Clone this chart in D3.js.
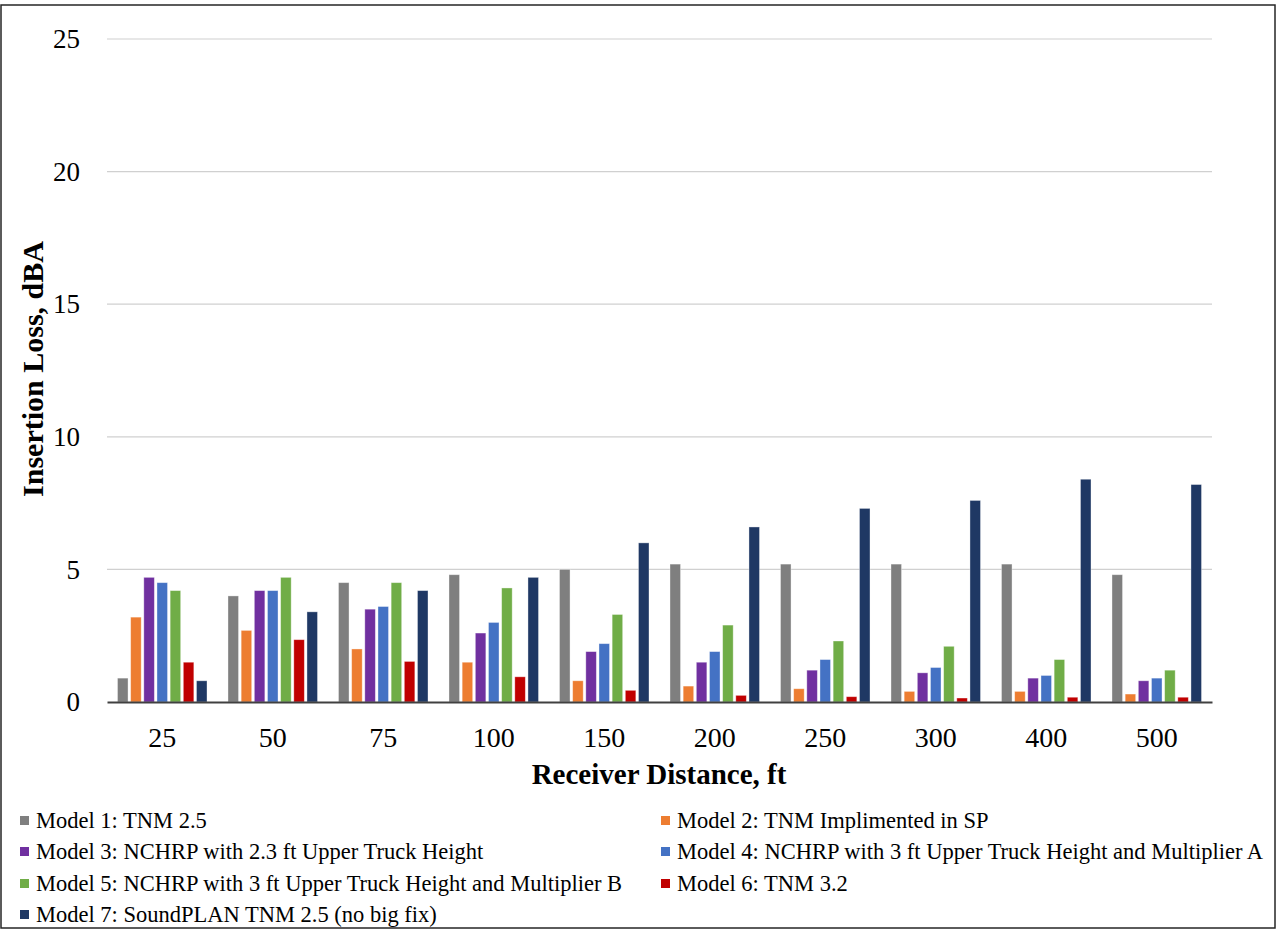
<!DOCTYPE html>
<html><head><meta charset="utf-8">
<script src="https://cdn.jsdelivr.net/npm/d3@7"></script>
<style>body{margin:0;background:#fff}svg{display:block}</style>
</head><body>
<script>
const categories = ["25","50","75","100","150","200","250","300","400","500"];
const seriesNames = [
  "Model 1: TNM 2.5",
  "Model 2: TNM Implimented in SP",
  "Model 3: NCHRP with 2.3 ft Upper Truck Height",
  "Model 4: NCHRP with 3 ft Upper Truck Height and Multiplier A",
  "Model 5: NCHRP with 3 ft Upper Truck Height and Multiplier B",
  "Model 6: TNM 3.2",
  "Model 7: SoundPLAN TNM 2.5 (no big fix)"
];
const model1 = [0.9, 4.0, 4.5, 4.8, 5.0, 5.2, 5.2, 5.2, 5.2, 4.8];
const model2 = [3.2, 2.7, 2.0, 1.5, 0.8, 0.6, 0.5, 0.4, 0.4, 0.3];
const model3 = [4.7, 4.2, 3.5, 2.6, 1.9, 1.5, 1.2, 1.1, 0.9, 0.8];
const model4 = [4.5, 4.2, 3.6, 3.0, 2.2, 1.9, 1.6, 1.3, 1.0, 0.9];
const model5 = [4.2, 4.7, 4.5, 4.3, 3.3, 2.9, 2.3, 2.1, 1.6, 1.2];
const model6 = [1.5, 2.35, 1.53, 0.95, 0.44, 0.25, 0.2, 0.15, 0.18, 0.18];
const model7 = [0.8, 3.4, 4.2, 4.7, 6.0, 6.6, 7.3, 7.6, 8.4, 8.2];
const yTicks = [0, 5, 10, 15, 20, 25];
const colors = ["#7f7f7f","#ed7d31","#7030a0","#4472c4","#70ad47","#c00000","#1f3864"];
const allSeries = [model1, model2, model3, model4, model5, model6, model7];

(function(){
const W = 1278, H = 931;
const svg = d3.select("body").append("svg").attr("width", W).attr("height", H);
const font = "'Liberation Serif','Times New Roman',serif";

svg.append("rect").attr("x", 1).attr("y", 5).attr("width", 1274).attr("height", 923)
  .attr("fill", "none").attr("stroke", "#262626").attr("stroke-width", 1.5);

const pL = 107, pR = 1212, pT = 39, pB = 702;
const x = d3.scaleBand().domain(categories).range([pL, pR]).paddingInner(0.19).paddingOuter(0.095);
const xs = d3.scaleBand().domain(d3.range(7)).range([0, x.bandwidth()]).paddingInner(0.2).paddingOuter(0);
const y = d3.scaleLinear().domain([0, 25]).range([pB, pT]);

svg.append("g").selectAll("line").data(yTicks.filter(d => d > 0)).join("line")
  .attr("x1", pL).attr("x2", pR).attr("y1", d => y(d)).attr("y2", d => y(d))
  .attr("stroke", "#d0d0d0").attr("stroke-width", 1.2);

const yAxis = d3.axisLeft(y).tickValues(yTicks).tickSize(0).tickPadding(0);
const gy = svg.append("g").attr("transform", "translate(80,0)").call(yAxis);
gy.select(".domain").remove();
gy.selectAll("text").attr("font-family", font).attr("font-size", 27).attr("fill", "#000");

const groups = svg.append("g").selectAll("g").data(allSeries).join("g")
  .attr("fill", (d, i) => colors[i]);
groups.each(function(vals, si) {
  d3.select(this).selectAll("rect").data(vals).join("rect")
    .attr("x", (v, ci) => x(categories[ci]) + xs(si))
    .attr("width", xs.bandwidth())
    .attr("y", v => y(v))
    .attr("height", v => pB - y(v))
    .attr("stroke", "#ffffff").attr("stroke-opacity", 0.45).attr("stroke-width", 0.8);
});

const xAxis = d3.axisBottom(x).tickSize(0).tickPadding(0);
const gx = svg.append("g").attr("transform", `translate(0,${pB})`).call(xAxis);
gx.select(".domain").attr("stroke", "#404040").attr("stroke-width", 2);
gx.selectAll("text").attr("font-family", font).attr("font-size", 28).attr("fill", "#000")
  .attr("dy", 0).attr("y", 45);

svg.append("text").attr("x", 659).attr("y", 784)
  .attr("text-anchor", "middle").attr("font-family", font).attr("font-weight", "bold")
  .attr("font-size", 29).text("Receiver Distance, ft");
svg.append("text").attr("transform", "translate(43,369) rotate(-90)")
  .attr("text-anchor", "middle").attr("font-family", font).attr("font-weight", "bold")
  .attr("font-size", 30).text("Insertion Loss, dBA");

const legPos = [[20, 820],[661, 820],[20, 851],[661, 851],[20, 883],[661, 883],[20, 914]];
const leg = svg.append("g").selectAll("g").data(seriesNames).join("g")
  .attr("transform", (d, i) => `translate(${legPos[i][0]},${legPos[i][1]})`);
leg.append("rect").attr("x", 0).attr("y", -4).attr("width", 9).attr("height", 9)
  .attr("fill", (d, i) => colors[i]);
leg.append("text").attr("x", 16).attr("y", 0).attr("dy", "0.35em")
  .attr("font-family", font).attr("font-size", 22.5).attr("fill", "#000").text(d => d);
})();
</script>
</body></html>
